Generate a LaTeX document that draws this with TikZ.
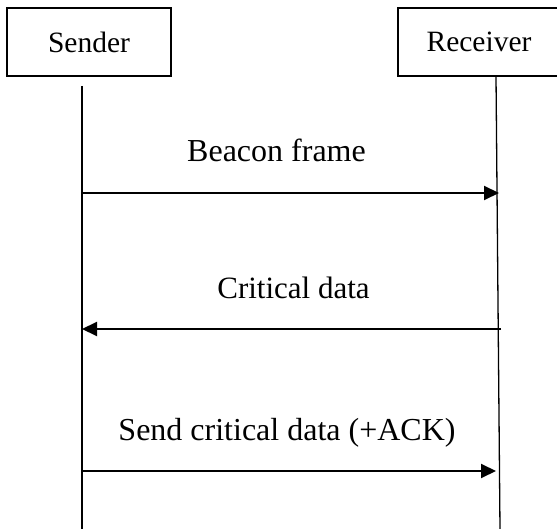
\documentclass[tikz,border=0pt]{standalone}
\usepackage{fontspec}
\setmainfont{Liberation Serif}
\usetikzlibrary{arrows.meta}

\begin{document}
\begin{tikzpicture}[x=1pt,y=-1pt,>={Triangle[length=15pt,width=14pt]}]
    \tikzstyle{box}=[draw=black, line width=1.3pt, inner sep=0pt, minimum height=68pt, font=\fontsize{29.5}{35}\selectfont]
    \tikzstyle{life}=[line width=1.3pt]
    \tikzstyle{msg}=[->, line width=2pt]
    \tikzstyle{lbl}=[inner sep=0pt, anchor=base, font=\fontsize{32}{38}\selectfont]

    \useasboundingbox (0,0) rectangle (557,529);

    \node[box, minimum width=164pt] (S) at (89,42) {Sender};
    \node[box, minimum width=162pt] (R) at (479,42) {Receiver};

    % lifelines
    \coordinate (Stop) at (82,86);
    \coordinate (Sbot) at (82,529);
    \coordinate (Rtop) at (496,76);
    \coordinate (Rbot) at (500,529);
    \draw[life] (Stop) -- (Sbot);
    \draw[life] (Rtop) -- (Rbot);

    % message ends
    \coordinate (S1) at (82,193);
    \coordinate (R1) at (499,193);
    \coordinate (S2) at (82,329);
    \coordinate (R2) at (501,329);
    \coordinate (S3) at (82,471);
    \coordinate (R3) at (496,471);

    \draw (S1) edge[msg] (R1);
    \draw (R2) edge[msg] (S2);
    \draw (S3) edge[msg] (R3);

    \node[lbl] (m1) at (276.5,162) {Beacon frame};
    \node[lbl, font=\fontsize{31}{37}\selectfont] (m2) at (293.5,298.5) {Critical data};
    \node[lbl] (m3) at (287,440.5) {Send critical data (+ACK)};
\end{tikzpicture}
\end{document}
